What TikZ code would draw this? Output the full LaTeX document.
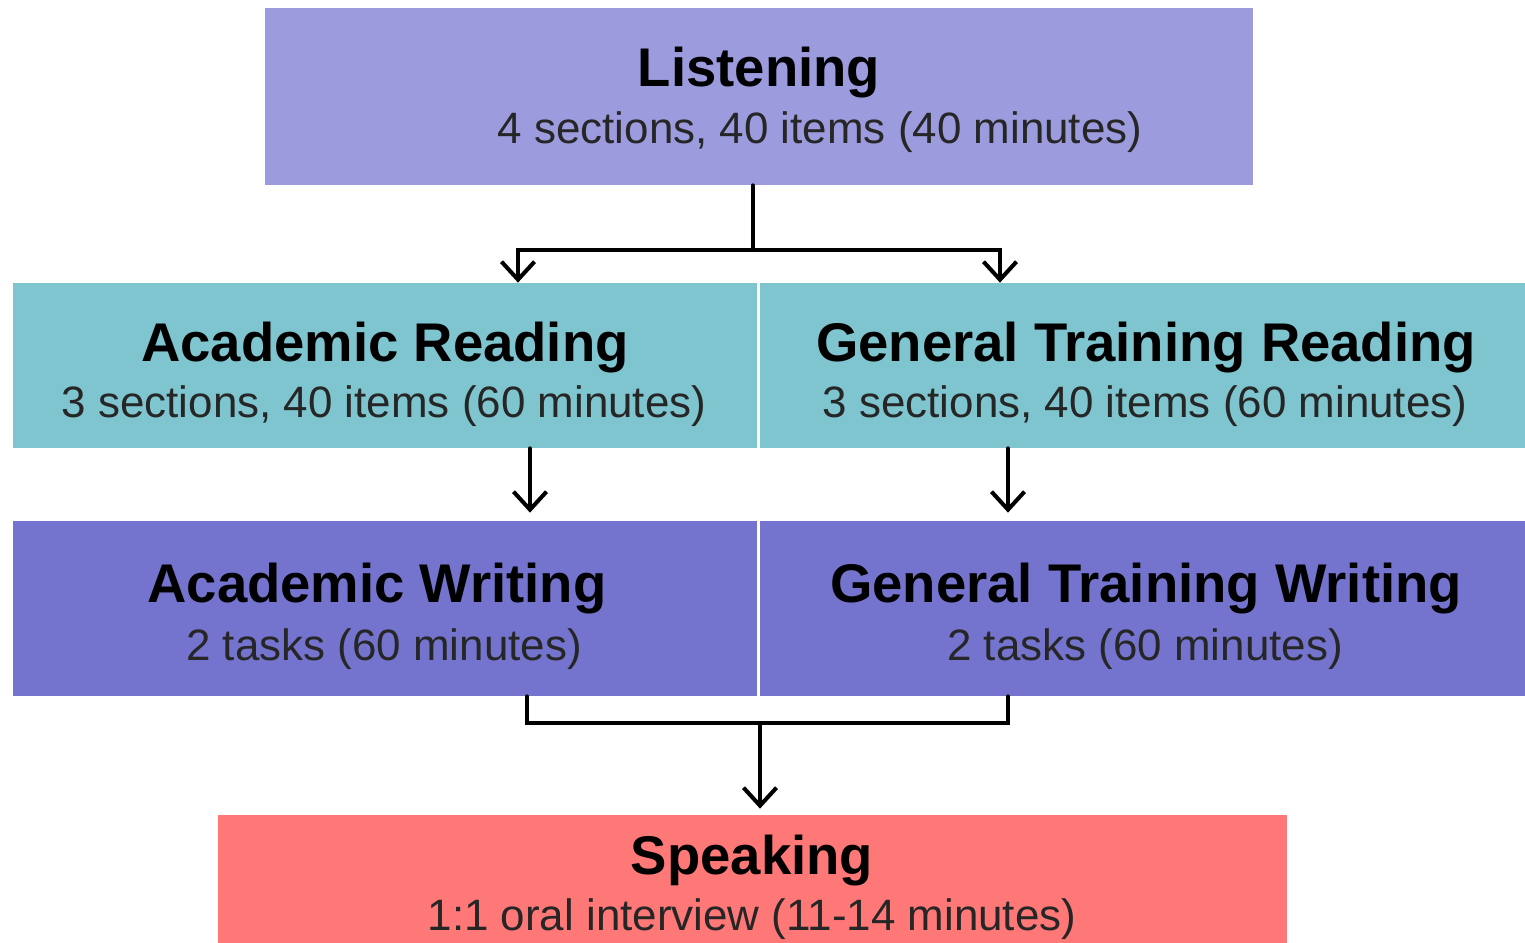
\documentclass[tikz,border=0pt]{standalone}
\usepackage{fontspec}
\setmainfont{Liberation Sans}
\usetikzlibrary{arrows.meta}
\tikzset{>={Straight Barb[length=3.6mm,width=6.6mm]}}
\definecolor{listenc}{RGB}{155,155,222}
\definecolor{readc}{RGB}{126,197,207}
\definecolor{writec}{RGB}{116,116,206}
\definecolor{speakc}{RGB}{255,120,120}
\tikzset{
    box/.style={rectangle, inner sep=0pt, anchor=center},
    ttl/.style={font=\fontsize{31}{36}\selectfont\bfseries, text=black},
    sub/.style={font=\fontsize{25}{30}\selectfont, text=black!85},
    link/.style={line width=2.3pt, line cap=round}
}

\begin{document}
\begin{tikzpicture}
    \useasboundingbox(0, 0) rectangle (30.5, -18.84);
    % boxes
    \node[box, fill=listenc, minimum width=19.76cm, minimum height=3.54cm](listen) at (15.18, -1.93) {};
    \node[box, fill=readc, minimum width=14.88cm, minimum height=3.30cm](acread) at (7.70, -7.31) {};
    \node[box, fill=readc, minimum width=15.30cm, minimum height=3.30cm](gtread) at (22.85, -7.31) {};
    \node[box, fill=writec, minimum width=14.88cm, minimum height=3.50cm](acwrite) at (7.70, -12.17) {};
    \node[box, fill=writec, minimum width=15.30cm, minimum height=3.50cm](gtwrite) at (22.85, -12.17) {};
    \node[box, fill=speakc, minimum width=21.38cm, minimum height=2.90cm](speak) at (15.05, -17.75) {};
    % texts
    \node[ttl](listent) at (15.18, -1.46) {Listening};
    \node[sub](listens) at (16.40, -2.64) {4 sections, 40 items (40 minutes)};
    \node[ttl](acreadt) at (7.70, -6.96) {Academic Reading};
    \node[sub](acreads) at (7.68, -8.12) {3 sections, 40 items (60 minutes)};
    \node[ttl](gtreadt) at (22.92, -6.96) {General Training Reading};
    \node[sub](gtreads) at (22.90, -8.12) {3 sections, 40 items (60 minutes)};
    \node[ttl](acwritet) at (7.54, -11.78) {Academic Writing};
    \node[sub](acwrites) at (7.68, -12.98) {2 tasks (60 minutes)};
    \node[ttl](gtwritet) at (22.92, -11.78) {General Training Writing};
    \node[sub](gtwrites) at (22.90, -12.98) {2 tasks (60 minutes)};
    \node[ttl](speakt) at (15.04, -17.22) {Speaking};
    \node[sub](speaks) at (15.04, -18.38) {1:1 oral interview (11-14 minutes)};
    % connectors
    \coordinate(split) at (15.06, -5.00);
    \coordinate(join) at (15.20, -14.46);
    \draw[link](listen.south -| split)--(split);
    \draw[link, ->](split)-|(acread.north -| 10.36,0);
    \draw[link, ->](split)-|(gtread.north -| 20.00,0);
    \draw[link, ->, shorten >=0.16cm](acread.south -| 10.60,0)--(acwrite.north -| 10.60,0);
    \draw[link, ->, shorten >=0.16cm](gtread.south -| 20.16,0)--(gtwrite.north -| 20.16,0);
    \draw[link](acwrite.south -| 10.54,0)--(10.54, -14.46)--(20.16, -14.46)--(gtwrite.south -| 20.16,0);
    \draw[link, ->, shorten >=0.12cm](join)--(speak.north -| join);
\end{tikzpicture}
\end{document}
